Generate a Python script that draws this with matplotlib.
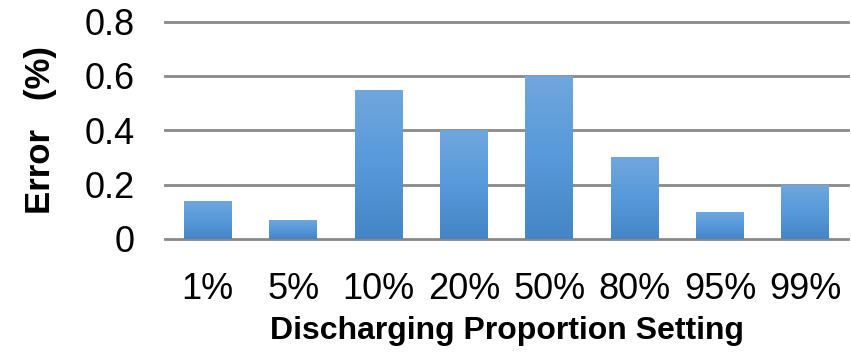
import numpy as np
import matplotlib
matplotlib.use("Agg")
import matplotlib.pyplot as plt
from matplotlib.colors import LinearSegmentedColormap

categories = ["1%", "5%", "10%", "20%", "50%", "80%", "95%", "99%"]
errors = [0.14, 0.07, 0.55, 0.40, 0.60, 0.30, 0.10, 0.20]
y_ticks = [0, 0.2, 0.4, 0.6, 0.8]
y_tick_labels = ["0", "0.2", "0.4", "0.6", "0.8"]

plt.rcParams["font.family"] = ["Liberation Sans", "DejaVu Sans"]

fig = plt.figure(figsize=(8.51, 3.54), dpi=100)
ax = fig.add_axes([0.194, 0.325, 0.8025, 0.614])

x = np.arange(len(categories))
bar_width = 0.56
bars = ax.bar(x, errors, width=bar_width, color="none", edgecolor="none", zorder=3)

# vertical gradient fill: lighter top, darker bottom
grad_cmap = LinearSegmentedColormap.from_list(
    "bar_grad", ["#4485c5", "#5799da", "#70a7dd"])
grad = np.linspace(0, 1, 256).reshape(-1, 1)
for rect in bars:
    x0, w, h = rect.get_x(), rect.get_width(), rect.get_height()
    im = ax.imshow(grad, cmap=grad_cmap, origin="lower", aspect="auto",
                   extent=[x0, x0 + w, 0, h], zorder=3, interpolation="bilinear")
    im.set_clip_path(rect)

for yv in y_ticks:
    ax.axhline(yv, color="#898989", linewidth=2.0, zorder=1, clip_on=False)

ax.set_xlim(-0.5, len(categories) - 0.5)
ax.set_ylim(0, 0.8)
ax.set_xticks(x)
ax.set_xticklabels(categories, fontsize=26)
ax.set_yticks(y_ticks)
ax.set_yticklabels(y_tick_labels, fontsize=26)
ax.tick_params(axis="both", length=0)
ax.tick_params(axis="y", pad=22)
ax.tick_params(axis="x", pad=24)
for s in ax.spines.values():
    s.set_visible(False)

ax.set_xlabel("Discharging Proportion Setting", fontsize=23, fontweight="bold", labelpad=6)
ax.set_ylabel("Error   (%)", fontsize=25, fontweight="bold", labelpad=20)

fig.savefig("out.png", dpi=100)
